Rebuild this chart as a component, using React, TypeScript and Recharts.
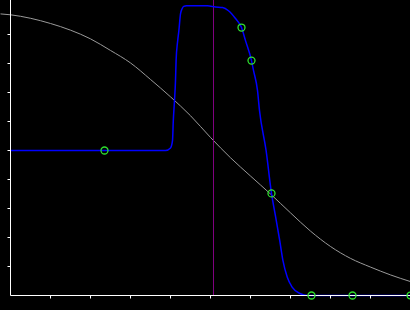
import { ComposedChart, Line, Scatter, XAxis, YAxis, ReferenceLine } from "recharts"

// smooth gray curve
const grayX = [-0.25, 0, 0.5, 1, 1.5, 2, 2.5, 3, 3.5, 4, 4.5, 5, 5.5, 6, 6.5, 7, 7.5, 8, 8.5, 9, 9.5, 10]
const grayY = [9.71, 9.68, 9.56, 9.38, 9.15, 8.85, 8.45, 8.02, 7.45, 6.85, 6.2, 5.45, 4.75, 4.12, 3.5, 2.85, 2.22, 1.69, 1.28, 0.98, 0.71, 0.48]

// blue step-like curve
const blueX = [0, 3.875, 4.0, 4.05, 4.07, 4.1, 4.125, 4.14, 4.18, 4.21, 4.25, 4.29, 4.33, 4.4, 4.925, 5.125, 5.3, 5.45, 5.625, 5.775, 5.875, 6.025, 6.075, 6.175, 6.225, 6.39, 6.525, 6.625, 6.73, 6.81, 6.92, 7.04, 7.25, 7.425, 10]
const blueY = [5, 5, 5.09, 5.34, 6.03, 6.72, 7.41, 8.1, 8.79, 9.14, 9.71, 9.89, 9.97, 9.99, 9.99, 9.95, 9.93, 9.82, 9.55, 9.24, 8.79, 8.1, 7.76, 7.07, 6.38, 5.0, 3.52, 2.74, 1.9, 1.21, 0.63, 0.29, 0.06, 0, 0]

// green sample markers
const markerX = [2.35, 5.775, 6.025, 6.525, 7.525, 8.55, 10]
const markerY = [5, 9.24, 8.1, 3.52, 0, 0, 0]

const xTicks = [1, 2, 3, 4, 5, 6, 7, 8, 9]
const yTicks = [1, 2, 3, 4, 5, 6, 7, 8, 9]
const cursorX = 5.075

const grayData = grayX.map((x, i) => ({ x, y: grayY[i] }))
const blueData = blueX.map((x, i) => ({ x, y: blueY[i] }))
const markerData = markerX.map((x, i) => ({ x, y: markerY[i] }))

const Ring = (props: any) => (
  <circle cx={props.cx} cy={props.cy} r={3.5} fill="none" stroke="#2ee02e" strokeWidth={1.3} />
)

// tick marks only, no labels
const NoLabel = () => <g />

export default function App() {
  return (
    <div style={{ position: "absolute", left: 0, top: 0, width: 410, height: 310, background: "#000" }}>
      <div style={{ position: "absolute", left: 0, top: 0 }}>
        <ComposedChart width={410} height={310} margin={{ top: 0, right: -0.5, bottom: 14.5, left: 0 }}>
          <XAxis type="number" dataKey="x" domain={[-0.2625, 10]} hide />
          <YAxis type="number" domain={[0, 10.19]} hide />
          <Line data={grayData} dataKey="y" type="monotone" stroke="#9a9a9a" strokeWidth={1} dot={false} activeDot={false} isAnimationActive={false} />
        </ComposedChart>
      </div>
      <div style={{ position: "absolute", left: 0, top: 0 }}>
        <ComposedChart width={410} height={310} margin={{ top: 0, right: -0.5, bottom: 0, left: 0 }}>
          <XAxis type="number" dataKey="x" domain={[0, 10]} ticks={xTicks} tick={NoLabel} height={14.5} tickSize={3} stroke="#fff" />
          <YAxis type="number" dataKey="y" domain={[0, 10.19]} ticks={yTicks} tick={NoLabel} width={10.5} tickSize={3} stroke="#fff" />
          <ReferenceLine x={cursorX} stroke="#800080" strokeWidth={1} />
          <Line data={blueData} dataKey="y" type="monotone" stroke="#0000ff" strokeWidth={1.5} dot={false} activeDot={false} isAnimationActive={false} />
          <Scatter data={markerData} dataKey="y" shape={Ring} isAnimationActive={false} />
        </ComposedChart>
      </div>
    </div>
  )
}
